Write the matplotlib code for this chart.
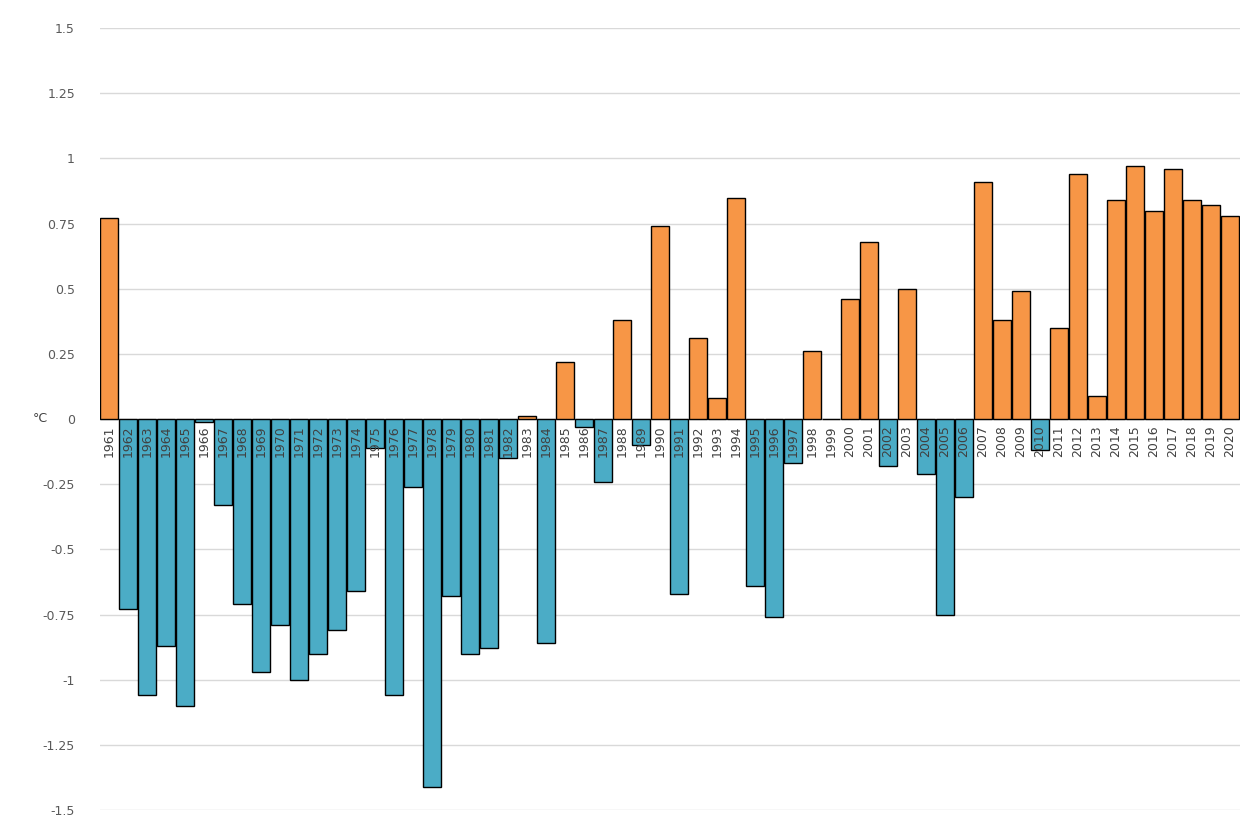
import matplotlib
matplotlib.use("Agg")
import matplotlib.pyplot as plt
import numpy as np

years = list(range(1961, 2021))
anomaly = [
    0.77, -0.73, -1.06, -0.87, -1.10, -0.01, -0.33, -0.71, -0.97, -0.79,
    -1.00, -0.90, -0.81, -0.66, -0.11, -1.06, -0.26, -1.41, -0.68, -0.90,
    -0.88, -0.15, 0.01, -0.86, 0.22, -0.03, -0.24, 0.38, -0.10, 0.74,
    -0.67, 0.31, 0.08, 0.85, -0.64, -0.76, -0.17, 0.26, 0.00, 0.46,
    0.68, -0.18, 0.50, -0.21, -0.75, -0.30, 0.91, 0.38, 0.49, -0.12,
    0.35, 0.94, 0.09, 0.84, 0.97, 0.80, 0.96, 0.84, 0.82, 0.78,
]
yticks = [1.5, 1.25, 1, 0.75, 0.5, 0.25, 0, -0.25, -0.5, -0.75, -1, -1.25, -1.5]
ytick_labels = ["1.5", "1.25", "1", "0.75", "0.5", "0.25", "0", "-0.25", "-0.5",
                "-0.75", "-1", "-1.25", "-1.5"]

ORANGE = "#F79646"
BLUE = "#4BACC6"

fig = plt.figure(figsize=(12.5, 8.23), dpi=100)
ax = fig.add_axes([0.08, 0.0158, 0.912, 0.950])

colors = [ORANGE if v >= 0 else BLUE for v in anomaly]
ax.bar(years, anomaly, width=0.95, color=colors, edgecolor="black", linewidth=1.0, zorder=3)

for yr in years:
    ax.text(yr, -0.025, str(yr), rotation=90, ha="center", va="top",
            fontsize=9, color="#404040", zorder=4)

ax.set_xlim(1960.53, 2020.53)
ax.set_ylim(-1.5, 1.5)
ax.set_yticks(yticks)
ax.set_yticklabels(ytick_labels, fontsize=9, color="#595959")
ax.set_xticks([])
ax.tick_params(axis="y", length=0, pad=18)
ax.grid(axis="y", color="#D9D9D9", linewidth=1.0, zorder=0)
for s in ax.spines.values():
    s.set_visible(False)
ax.axhline(0, color="#D9D9D9", linewidth=1.0, zorder=1)
fig.text(0.026, 1 - 419 / 823, "°C", fontsize=9, color="#404040", va="center")

fig.savefig("out.png", dpi=100)
